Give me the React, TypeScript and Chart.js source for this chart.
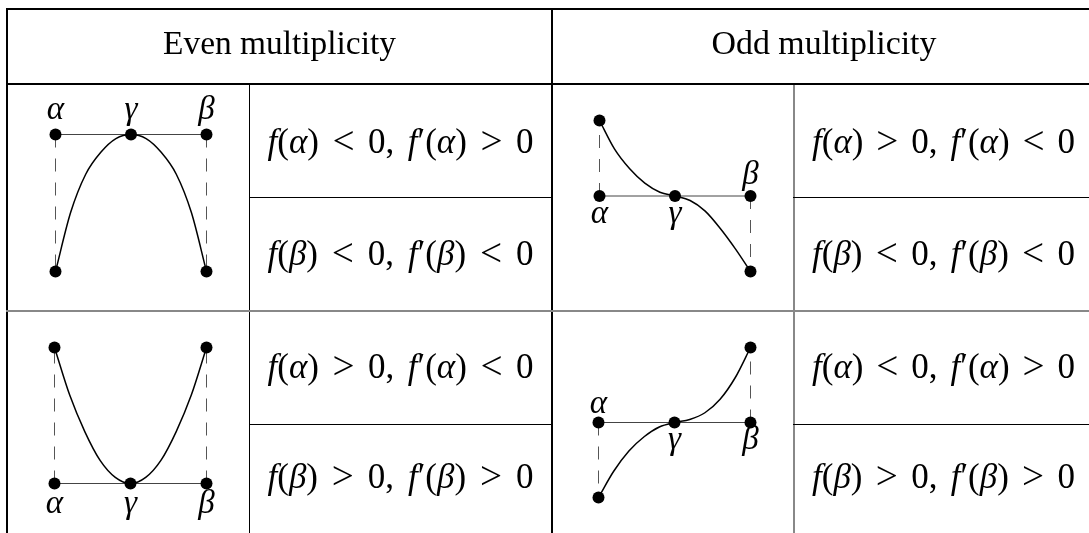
import React, { useEffect, useRef } from "react";
import { Chart, registerables } from "chart.js";

Chart.register(...registerables);

// ---------------- data ----------------
const headers = ["Even multiplicity", "Odd multiplicity"];
const evenConditions = [
  "f(α) < 0, f′(α) > 0",
  "f(β) < 0, f′(β) < 0",
  "f(α) > 0, f′(α) < 0",
  "f(β) > 0, f′(β) > 0",
];
const oddConditions = [
  "f(α) > 0, f′(α) < 0",
  "f(β) < 0, f′(β) < 0",
  "f(α) < 0, f′(α) > 0",
  "f(β) > 0, f′(β) > 0",
];
const rootNames = ["α", "γ", "β"];
const rootX = [0, 1, 2];
const curveX = [0, 0.2, 0.4, 0.6, 0.8, 1, 1.2, 1.4, 1.6, 1.8, 2];
const evenConcaveY = [-1, -0.57, -0.29, -0.13, -0.03, 0, -0.03, -0.13, -0.29, -0.57, -1];
const evenConvexY = [1, 0.65, 0.38, 0.17, 0.045, 0, 0.045, 0.17, 0.38, 0.65, 1];
const oddFallingY = [1, 0.62, 0.36, 0.17, 0.05, 0, -0.06, -0.2, -0.43, -0.7, -1];
const oddRisingY = [-1, -0.65, -0.38, -0.19, -0.06, 0, 0.04, 0.13, 0.31, 0.6, 1];

// ---------------- layout ----------------
const W = 1089;
const H = 533;
const FONT = "'Liberation Serif', 'Times New Roman', serif";
const PAD = 45;
const HALF = 0.5;

const panels = [
  { ys: evenConcaveY, left: 55, right: 206, top: 134, bottom: 271, labelDy: [-16, -16, -16] },
  { ys: oddFallingY, left: 599, right: 750, top: 120, bottom: 271, labelDy: [27, 27, -12] },
  { ys: evenConvexY, left: 54, right: 206, top: 347, bottom: 483, labelDy: [29, 29, 29] },
  { ys: oddRisingY, left: 598, right: 750, top: 347, bottom: 497, labelDy: [-10, 26, 26] },
];

const rowBaselines = [153, 265, 378, 488];
const ITALIC = "fαβγ";
const RELATIONS = "<>";

function charSize(ch: string, size: number) {
  return RELATIONS.includes(ch) ? size * 1.12 : size;
}

function charFont(ch: string, size: number) {
  return (ITALIC.includes(ch) ? "italic " : "") + charSize(ch, size).toFixed(2) + "px " + FONT;
}

function wordWidth(ctx: CanvasRenderingContext2D, w: string, size: number) {
  let t = 0;
  for (const ch of Array.from(w)) {
    ctx.font = charFont(ch, size);
    t += ctx.measureText(ch).width;
  }
  return t;
}

function drawSpaced(
  ctx: CanvasRenderingContext2D,
  text: string,
  cx: number,
  baseline: number,
  target: number,
  size: number
) {
  const words = text.split(" ");
  const widths = words.map((w) => wordWidth(ctx, w, size));
  const sum = widths.reduce((a, b) => a + b, 0);
  const gap = words.length > 1 ? (target - sum) / (words.length - 1) : 0;
  let x = cx - target / 2;
  ctx.textAlign = "left";
  ctx.textBaseline = "alphabetic";
  ctx.fillStyle = "#000";
  words.forEach((w, i) => {
    for (const ch of Array.from(w)) {
      ctx.font = charFont(ch, size);
      const dy = RELATIONS.includes(ch) ? size * 0.03 : 0;
      ctx.fillText(ch, x, baseline + dy);
      x += ctx.measureText(ch).width;
    }
    if (i < words.length - 1) x += gap;
  });
}

function drawFitted(ctx: CanvasRenderingContext2D, text: string, cx: number, baseline: number, target: number) {
  ctx.font = "32px " + FONT;
  const w0 = ctx.measureText(text).width;
  const size = (32 * target) / w0;
  ctx.font = size.toFixed(2) + "px " + FONT;
  ctx.textAlign = "center";
  ctx.textBaseline = "alphabetic";
  ctx.fillStyle = "#000";
  ctx.fillText(text, cx, baseline);
}

function drawTable(ctx: CanvasRenderingContext2D) {
  const HL = (x0: number, x1: number, y: number, h: number, c: string) => {
    ctx.fillStyle = c;
    ctx.fillRect(x0, y, x1 - x0, h);
  };
  const VL = (x: number, y0: number, y1: number, w: number, c: string) => {
    ctx.fillStyle = c;
    ctx.fillRect(x, y0, w, y1 - y0);
  };
  ctx.save();
  HL(6, W, 8, 2, "#000");
  HL(6, W, 83, 2, "#000");
  VL(6, 8, H, 2, "#000");
  VL(551, 8, H, 2, "#000");
  VL(249, 85, H, 1, "#000");
  VL(793, 85, H, 2, "#888");
  HL(249, 551, 197, 1, "#000");
  HL(793, W, 197, 1, "#000");
  HL(6, W, 310, 2, "#888");
  HL(249, 551, 424, 1, "#000");
  HL(793, W, 424, 1, "#000");

  drawFitted(ctx, headers[0], 279.5, 54, 233);
  drawFitted(ctx, headers[1], 824, 54, 225);
  evenConditions.forEach((t, i) => drawSpaced(ctx, t, 400.5, rowBaselines[i], 266, 35));
  oddConditions.forEach((t, i) => drawSpaced(ctx, t, 943.5, rowBaselines[i], 263, 35));
  ctx.restore();
}

function TableFrame() {
  const ref = useRef<HTMLCanvasElement>(null);
  useEffect(() => {
    const plugin = {
      id: "tableFrame",
      afterDraw(chart: any) {
        drawTable(chart.ctx);
      },
    };
    const chart = new Chart(ref.current as HTMLCanvasElement, {
      type: "scatter",
      data: { datasets: [] },
      options: {
        responsive: false,
        animation: false,
        events: [],
        plugins: { legend: { display: false }, tooltip: { enabled: false } },
        scales: { x: { display: false }, y: { display: false } },
      },
      plugins: [plugin],
    } as any);
    return () => chart.destroy();
  }, []);
  return (
    <canvas
      ref={ref}
      width={W}
      height={H}
      style={{ position: "absolute", left: 0, top: 0, width: W, height: H }}
    />
  );
}

function Panel(props: { ys: number[]; left: number; right: number; top: number; bottom: number; labelDy: number[] }) {
  const { ys, left, right, top, bottom, labelDy } = props;
  const ref = useRef<HTMLCanvasElement>(null);
  const cw = right - left + 2 * PAD + 1;
  const chH = bottom - top + 2 * PAD + 1;
  useEffect(() => {
    const n = ys.length;
    const endL = ys[0];
    const endR = ys[n - 1];
    const yMin = Math.min(0, ...ys);
    const yMax = Math.max(0, ...ys);
    const labelPlugin = {
      id: "rootLabels",
      afterDatasetsDraw(chart: any) {
        const ctx = chart.ctx as CanvasRenderingContext2D;
        const xs = chart.scales.x;
        const yS = chart.scales.y;
        ctx.save();
        ctx.font = "italic 33px " + FONT;
        ctx.textAlign = "center";
        ctx.textBaseline = "alphabetic";
        ctx.fillStyle = "#000";
        rootNames.forEach((nm, i) => {
          ctx.fillText(nm, xs.getPixelForValue(rootX[i]), yS.getPixelForValue(0) + labelDy[i]);
        });
        ctx.restore();
      },
    };
    const pad = PAD + HALF;
    const chart = new Chart(ref.current as HTMLCanvasElement, {
      type: "scatter",
      data: {
        datasets: [
          {
            data: [
              ...rootX.map((x) => ({ x, y: 0 })),
              { x: rootX[0], y: endL },
              { x: rootX[2], y: endR },
            ],
            showLine: false,
            pointRadius: 6,
            pointBackgroundColor: "#000",
            pointBorderColor: "#000",
            pointBorderWidth: 0,
            clip: false,
          },
          {
            data: curveX.map((x, i) => ({ x, y: ys[i] })),
            showLine: true,
            borderColor: "#000",
            borderWidth: 1.5,
            pointRadius: 0,
            cubicInterpolationMode: "monotone",
            clip: false,
          },
          {
            data: [
              { x: rootX[0], y: 0 },
              { x: rootX[2], y: 0 },
            ],
            showLine: true,
            borderColor: "#444",
            borderWidth: 1,
            pointRadius: 0,
            clip: false,
          },
          {
            data: [
              { x: rootX[0], y: 0 },
              { x: rootX[0], y: endL },
            ],
            showLine: true,
            borderColor: "#555",
            borderWidth: 1,
            borderDash: [13, 11],
            pointRadius: 0,
            clip: false,
          },
          {
            data: [
              { x: rootX[2], y: 0 },
              { x: rootX[2], y: endR },
            ],
            showLine: true,
            borderColor: "#555",
            borderWidth: 1,
            borderDash: [13, 11],
            pointRadius: 0,
            clip: false,
          },
        ],
      },
      options: {
        responsive: false,
        animation: false,
        events: [],
        layout: { padding: { left: pad, right: pad, top: pad, bottom: pad } },
        plugins: { legend: { display: false }, tooltip: { enabled: false } },
        scales: {
          x: { type: "linear", min: 0, max: 2, display: false },
          y: { type: "linear", min: yMin, max: yMax, display: false },
        },
      },
      plugins: [labelPlugin],
    } as any);
    return () => chart.destroy();
  }, []);
  return (
    <canvas
      ref={ref}
      width={cw}
      height={chH}
      style={{ position: "absolute", left: left - PAD, top: top - PAD, width: cw, height: chH }}
    />
  );
}

export default function App() {
  return (
    <div
      style={{
        position: "absolute",
        left: 0,
        top: 0,
        width: W,
        height: H,
        overflow: "hidden",
        background: "#fff",
      }}
    >
      <TableFrame />
      {panels.map((p, i) => (
        <Panel key={i} {...p} />
      ))}
    </div>
  );
}
